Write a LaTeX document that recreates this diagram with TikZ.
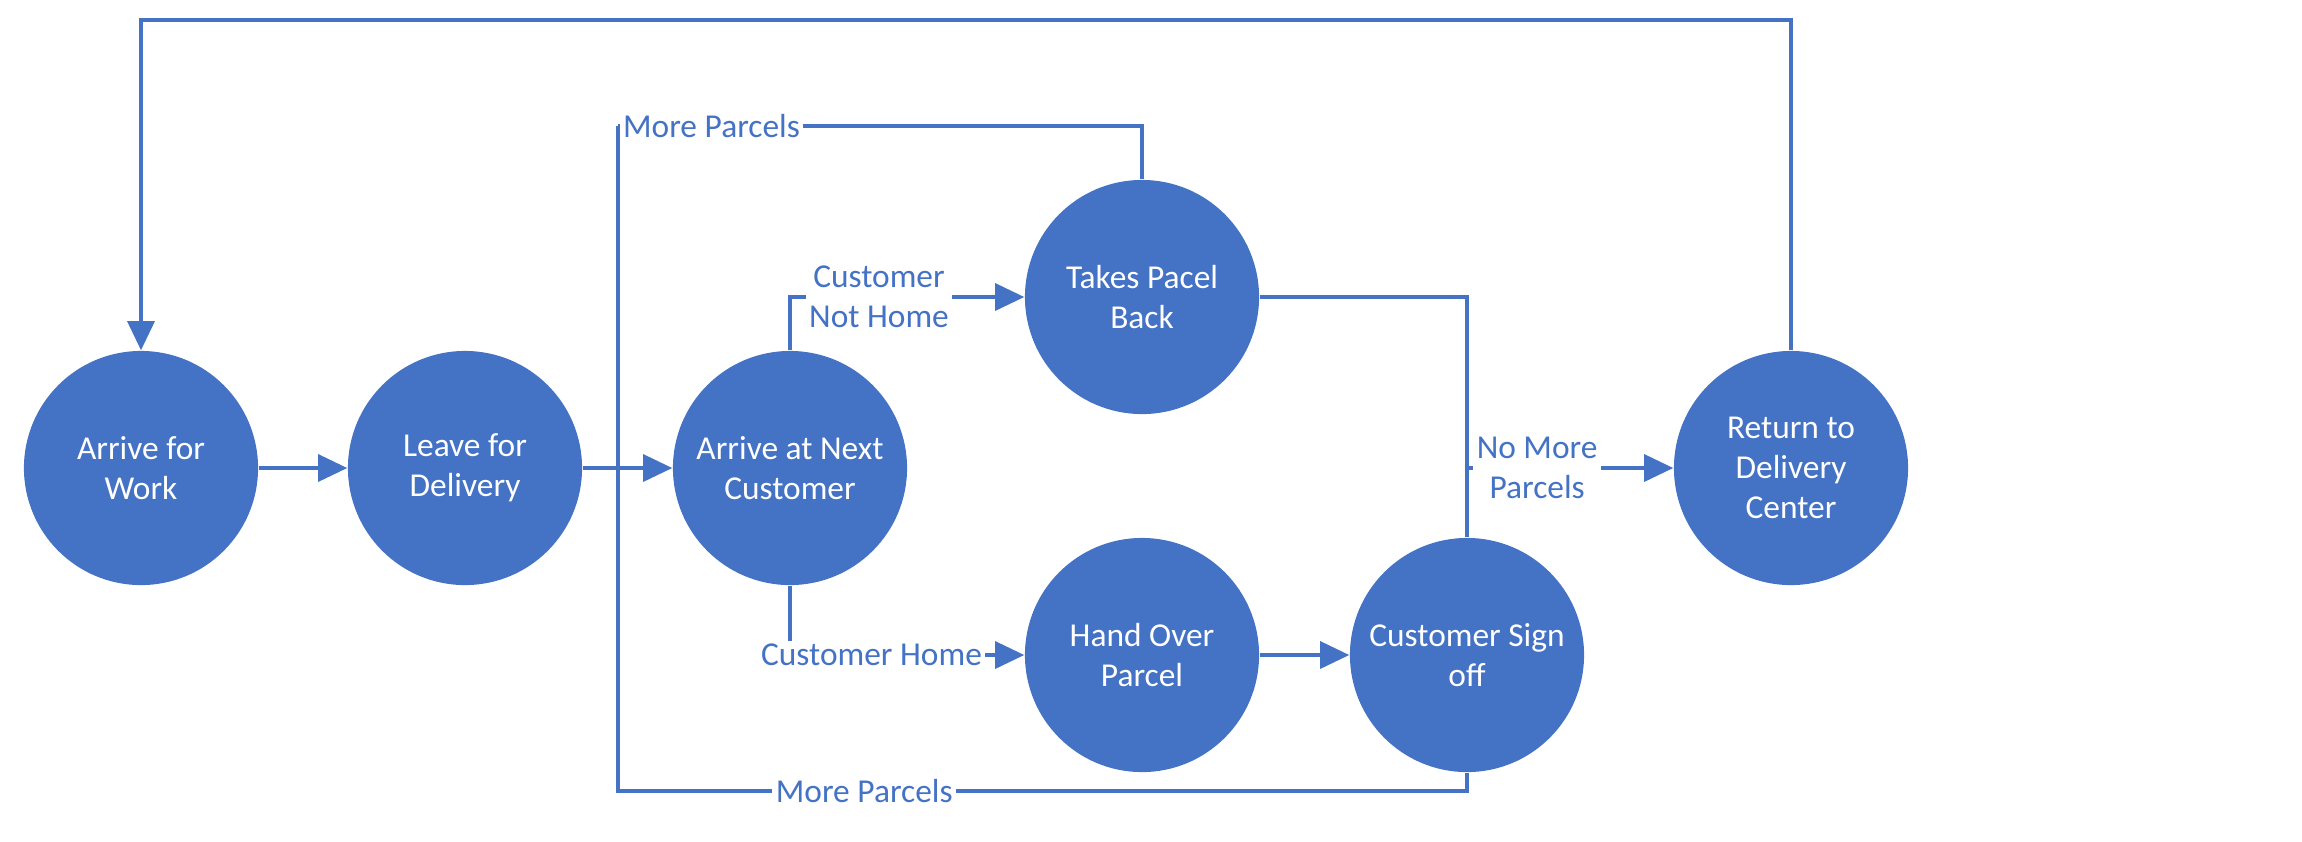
\documentclass[tikz,border=0pt]{standalone}
\usepackage{fontspec}
\setmainfont{Carlito}
\usepackage{tikz}
\usetikzlibrary{arrows.meta, positioning, calc}
\definecolor{bleu}{HTML}{4472C4}

\begin{document}
\begin{tikzpicture}[x=0.01cm, y=-0.01cm,
    etat/.style={circle, fill=bleu, text=white, minimum size=2.34cm, inner sep=0pt,
        align=center, font=\fontsize{9.5}{11.3}\selectfont},
    lien/.style={draw=bleu, line width=0.9pt},
    fleche/.style={lien, -{Triangle[length=2.9mm, width=2.7mm]}},
    etiq/.style={fill=white, text=bleu, inner sep=1pt, align=center,
        font=\fontsize{9.5}{11.3}\selectfont}]

    % Cadre
    \useasboundingbox (0,0) rectangle (2302,841);

    % Etats
    \foreach \nom/\x/\y/\txt in {work/141/468/{Arrive for\\Work},
        leave/465/468/{Leave for\\Delivery},
        next/790/468/{Arrive at Next\\Customer},
        back/1142/297/{Takes Pacel\\Back},
        hand/1142/655/{Hand Over\\Parcel},
        signoff/1467/655/{Customer Sign\\off},
        ret/1791/468/{Return to\\Delivery\\Center}} {
        \node[etat] (\nom) at (\x,\y) {\txt};
    }

    % Points de passage
    \coordinate (haut) at (141,20);
    \coordinate (boucleH) at (618,126);
    \coordinate (boucleB) at (618,791);
    \coordinate (jonction) at (618,468);
    \coordinate (fusion) at (1467,468);

    % Chemin principal
    \draw[fleche] (work) -- (leave);
    \draw[fleche] (leave) -- (next);
    \draw[fleche] (hand) -- (signoff);

    % Client absent / present
    \draw[fleche] (next.north) |- node[etiq, pos=0.69] {Customer\\Not Home} (back.west);
    \draw[fleche] (next.south) |- node[etiq, pos=0.674] {Customer Home} (hand.west);

    % Plus de colis
    \draw[fleche] (fusion) -- node[etiq, pos=0.34] {No More\\Parcels} (ret.west);
    \draw[lien] (back.east) -| (fusion);
    \draw[lien] (signoff.north) -- (fusion);

    % Retour vers le client suivant
    \draw[lien] (back.north) |- node[etiq, pos=1, anchor=west] {More Parcels} (boucleH);
    \draw[lien] (boucleH) -- (jonction);
    \draw[lien] (signoff.south) |- node[etiq, pos=0.855] {More Parcels} (boucleB) -- (jonction);

    % Retour au centre
    \draw[fleche] (ret.north) |- (haut) -- (work.north);

\end{tikzpicture}
\end{document}
